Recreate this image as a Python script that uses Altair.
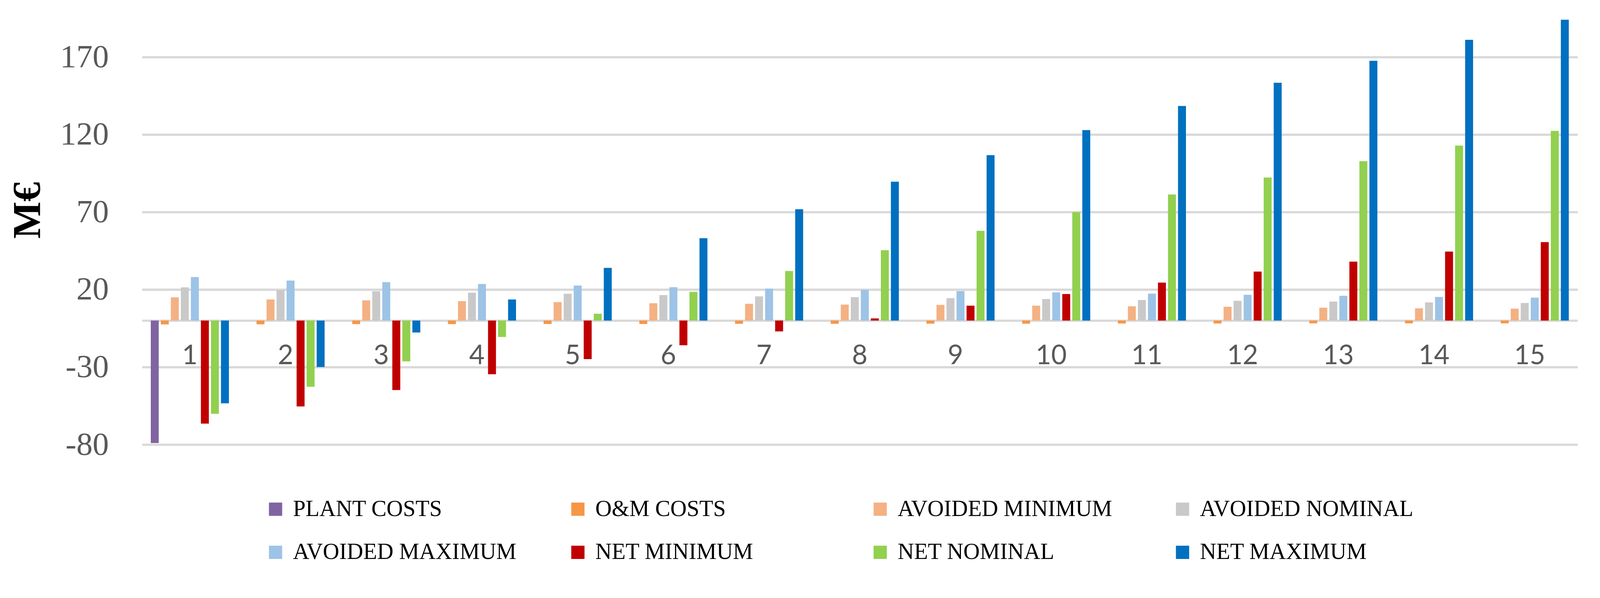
import altair as alt
import pandas as pd

years = [str(y) for y in range(1, 16)]
series = ["PLANT COSTS", "O&M COSTS", "AVOIDED MINIMUM", "AVOIDED NOMINAL",
          "AVOIDED MAXIMUM", "NET MINIMUM", "NET NOMINAL", "NET MAXIMUM"]
colors = ["#8064A2", "#F79646", "#F4B183", "#C9C9C9",
          "#9DC3E6", "#C00000", "#92D050", "#0070C0"]

plant_costs = [-79.0] + [None] * 14
om_costs = [-2.5, -2.4, -2.3, -2.3, -2.2, -2.2, -2.1, -2.1, -2.0, -2.0, -1.9, -1.9, -1.8, -1.8, -1.8]
avoided_min = [15.0, 13.6, 13.0, 12.5, 11.9, 11.2, 10.8, 10.3, 10.1, 9.6, 9.2, 8.9, 8.3, 7.9, 7.7]
avoided_nom = [21.4, 19.7, 18.9, 18.0, 17.3, 16.4, 15.6, 15.1, 14.5, 13.9, 13.3, 12.8, 12.3, 11.7, 11.3]
avoided_max = [28.1, 25.8, 24.8, 23.6, 22.6, 21.5, 20.6, 19.8, 19.0, 18.2, 17.4, 16.6, 16.0, 15.2, 14.8]
net_min = [-66.5, -55.4, -44.8, -34.6, -24.9, -15.9, -7.0, 1.4, 9.6, 17.1, 24.5, 31.6, 38.0, 44.5, 50.6]
net_nom = [-60.1, -42.7, -26.3, -10.6, 4.4, 18.5, 32.0, 45.4, 57.9, 70.0, 81.3, 92.3, 102.8, 112.9, 122.4]
net_max = [-53.4, -30.0, -7.7, 13.6, 34.0, 53.1, 71.8, 89.6, 106.7, 122.9, 138.4, 153.4, 167.6, 181.1, 194.1]

y_ticks = [-80, -30, 20, 70, 120, 170]

all_vals = [plant_costs, om_costs, avoided_min, avoided_nom,
            avoided_max, net_min, net_nom, net_max]
rows = []
for i, yr in enumerate(years):
    for s, vals in zip(series, all_vals):
        v = vals[i]
        if v is None:
            continue
        rows.append({"year": yr, "series": s, "value": v})
df = pd.DataFrame(rows)

PX_PER_UNIT = 4.1
Y_MIN, Y_MAX = -80, 198.8
PLOT_W = 3794
PLOT_H = round((Y_MAX - Y_MIN) * PX_PER_UNIT)
zero_offset = -round((0 - Y_MIN) * PX_PER_UNIT)
TOP = 0

chart = alt.Chart(df).mark_bar().encode(
    x=alt.X("year:N", sort=years,
            scale=alt.Scale(paddingInner=0.162, paddingOuter=0.081),
            axis=alt.Axis(title=None, orient="bottom", offset=zero_offset,
                          labelAngle=0, labelFont="Lato", labelFontSize=71,
                          labelColor="#595959", labelPadding=94,
                          labelBaseline="middle", ticks=False, tickSize=0,
                          domainColor="#D9D9D9", domainWidth=6, grid=False)),
    xOffset=alt.XOffset("series:N", sort=series,
                        scale=alt.Scale(domain=series, paddingInner=0.2075, paddingOuter=0.104)),
    y=alt.Y("value:Q",
            scale=alt.Scale(domain=[Y_MIN, Y_MAX], nice=False, zero=False),
            axis=alt.Axis(values=y_ticks, title="M€", grid=True,
                          gridColor="#D9D9D9", gridWidth=6, domain=False,
                          ticks=False, tickSize=0,
                          labelExpr="datum.value < 0 ? '-' + abs(datum.value) : '' + datum.value",
                          labelFont="Liberation Serif", labelFontSize=86,
                          labelColor="#595959", labelPadding=88,
                          titleFont="Liberation Serif", titleFontSize=104,
                          titleFontWeight="bold", titleColor="#000000",
                          titleAngle=270, titleX=-300, titleY=551 - 28,
                          titleAlign="center", titleBaseline="middle")),
    color=alt.Color("series:N", sort=series,
                    scale=alt.Scale(domain=series, range=colors),
                    legend=alt.Legend(title=None, orient="none",
                                      legendX=323, legendY=1284,
                                      columns=4, direction="horizontal",
                                      gridAlign="all",
                                      symbolType="square", symbolSize=1225,
                                      symbolStrokeWidth=0,
                                      labelFont="Liberation Serif",
                                      labelFontSize=60, labelColor="#000000",
                                      labelOffset=16, labelLimit=2000,
                                      columnPadding=132, rowPadding=54,
                                      padding=0)),
).properties(
    width=PLOT_W, height=PLOT_H,
    autosize=alt.AutoSizeParams(type="none"),
    padding={"left": 367, "top": TOP, "right": 51, "bottom": 1516 - PLOT_H - TOP},
).configure_view(strokeWidth=0)

chart.save("out.html", embed_options={"renderer": "svg", "actions": False})
